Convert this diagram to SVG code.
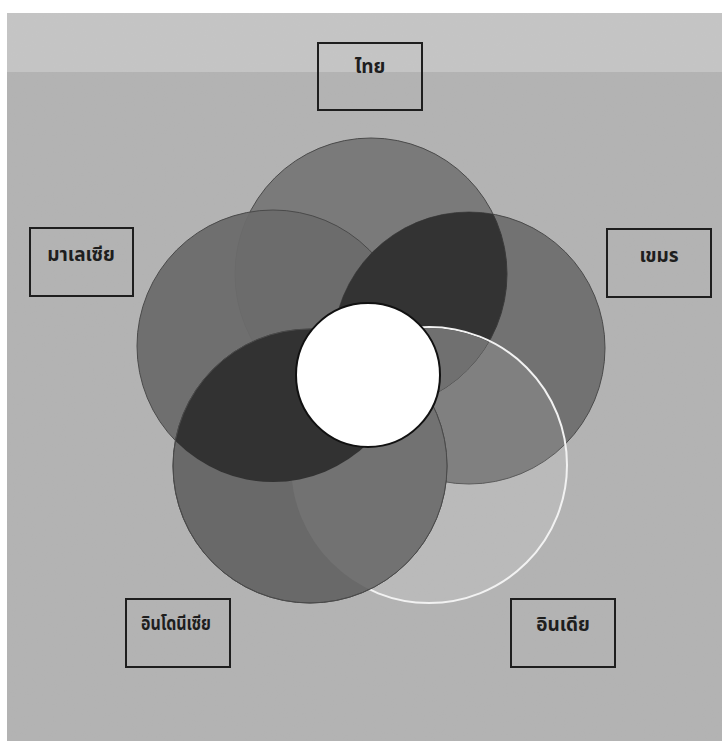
<svg xmlns="http://www.w3.org/2000/svg" width="722" height="741" viewBox="0 0 722 741">
<style>
.box{fill:none;stroke:#1e1e1e;stroke-width:2}
.lbl{font-family:"Noto Sans Thai","Noto Sans","DejaVu Sans",sans-serif;font-weight:bold;font-size:19px;fill:#1e1e1e;text-anchor:middle}
.circ{stroke:#4a4a4a;stroke-width:1}
</style>
<defs>
<filter id="noise" x="0" y="0" width="100%" height="100%">
<feTurbulence type="fractalNoise" baseFrequency="0.9" numOctaves="2" seed="3" result="t"/>
<feColorMatrix in="t" type="matrix" values="0 0 0 0 0.5  0 0 0 0 0.5  0 0 0 0 0.5  0 0 0 0.18 0"/>
</filter>
<clipPath id="cT"><circle cx="371" cy="274" r="136"/></clipPath>
<clipPath id="cL"><circle cx="273" cy="346" r="136"/></clipPath>
<clipPath id="cR"><circle cx="469" cy="348" r="136"/></clipPath>
<clipPath id="cBL"><circle cx="310" cy="466" r="137"/></clipPath>
<clipPath id="cBR"><circle cx="429" cy="465" r="138"/></clipPath>
</defs>
<g id="background">
<rect x="0" y="0" width="722" height="741" fill="#ffffff"/>
<rect x="7" y="13" width="715" height="728" fill="#b2b2b2"/>
<rect x="7" y="13" width="715" height="59" fill="#c5c5c5"/>
<rect x="7" y="13" width="715" height="728" filter="url(#noise)"/>
</g>
<g id="circles">
<circle id="c-thai" class="circ" cx="371" cy="274" r="136" fill="#7a7a7a"/>
<circle id="c-malaysia" class="circ" cx="273" cy="346" r="136" fill="#6c6c6c" fill-opacity="0.95"/>
<circle id="c-khmer" class="circ" cx="469" cy="348" r="136" fill="#727272"/>
<circle cx="371" cy="274" r="136" fill="#333333" clip-path="url(#cR)"/>
<circle cx="371" cy="274" r="136" fill="none" stroke="#3a3a3a" stroke-width="1" clip-path="url(#cR)"/>
<circle id="c-india" cx="429" cy="465" r="138" fill="#ffffff" fill-opacity="0.1" stroke="#f2f2f2" stroke-width="2"/>
<g clip-path="url(#cR)"><circle cx="429" cy="465" r="137" fill="#707070" clip-path="url(#cT)"/></g>
<circle id="c-indonesia" class="circ" cx="310" cy="466" r="137" fill="#696969"/>
<circle cx="429" cy="465" r="138" fill="#727272" clip-path="url(#cBL)"/>
<circle cx="273" cy="346" r="136" fill="#323232" clip-path="url(#cBL)"/>
<circle cx="310" cy="466" r="137" fill="none" stroke="#4a4a4a" stroke-width="1"/>
<circle id="center" cx="368" cy="375" r="72" fill="#ffffff" stroke="#111111" stroke-width="2"/>
</g>
<g id="n-thai"><rect class="box" x="318" y="43" width="104" height="67"/><text class="lbl" x="370" y="73">ไทย</text></g>
<g id="n-malaysia"><rect class="box" x="30" y="228" width="103" height="68"/><text class="lbl" x="81" y="261">มาเลเซีย</text></g>
<g id="n-khmer"><rect class="box" x="607" y="229" width="104" height="68"/><text class="lbl" x="659" y="262">เขมร</text></g>
<g id="n-indonesia"><rect class="box" x="126" y="599" width="104" height="68"/><text class="lbl" x="176" y="630" textLength="70" lengthAdjust="spacingAndGlyphs">อินโดนีเซีย</text></g>
<g id="n-india"><rect class="box" x="511" y="599" width="104" height="68"/><text class="lbl" x="563" y="631">อินเดีย</text></g>
<g id="connectors"></g>
</svg>
